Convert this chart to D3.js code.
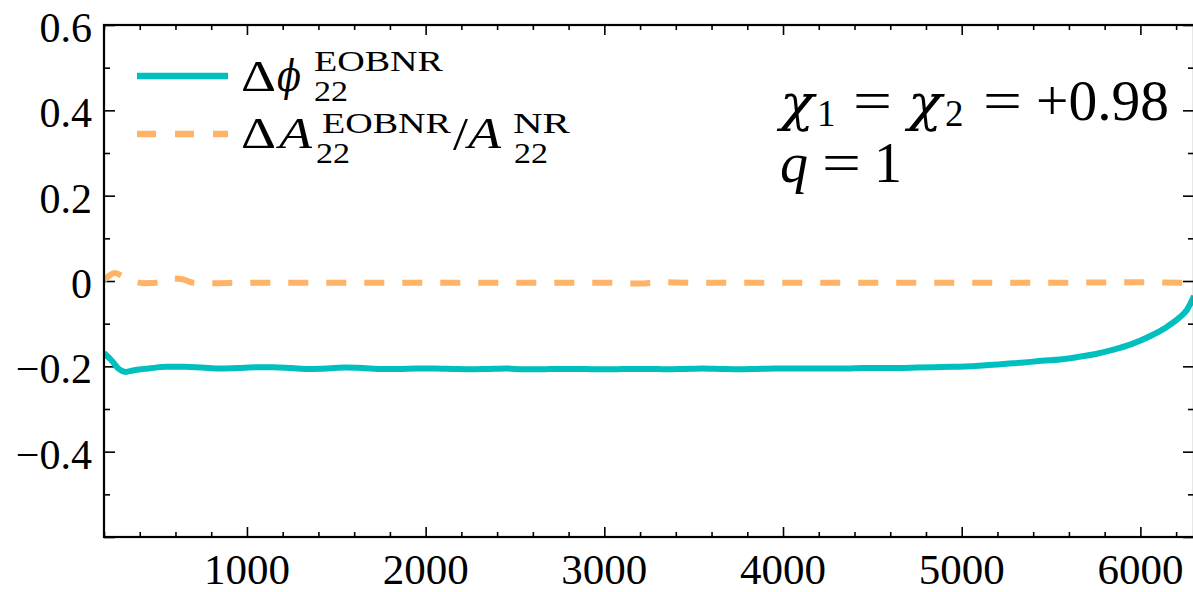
<!DOCTYPE html>
<html><head><meta charset="utf-8">
<script src="https://cdn.jsdelivr.net/npm/d3@7/dist/d3.min.js"></script>
<style>
html,body{margin:0;padding:0;background:#fff;}
svg text{font-family:"Liberation Serif","Times New Roman",serif;fill:#000;}
</style></head>
<body><svg id="chart" width="1193" height="592"></svg>
<script>
// ---- data ----
const phiX = [200,240,280,320,370,450,550,650,750,850,950,1050,1150,1250,1350,1450,1550,1650,1750,1850,1950,2050,2150,2250,2350,2450,2550,2650,2750,2850,2950,3050,3150,3250,3350,3450,3550,3650,3750,3850,3950,4050,4150,4250,4350,4450,4550,4650,4750,4850,4950,5050,5150,5250,5350,5450,5550,5650,5750,5850,5950,6050,6150,6220,6260,6300];
const phiY = [-0.169,-0.185,-0.205,-0.213,-0.209,-0.205,-0.201,-0.201,-0.203,-0.205,-0.204,-0.202,-0.202,-0.204,-0.206,-0.205,-0.203,-0.204,-0.206,-0.206,-0.205,-0.205,-0.206,-0.207,-0.206,-0.205,-0.207,-0.207,-0.206,-0.206,-0.207,-0.207,-0.206,-0.206,-0.207,-0.206,-0.205,-0.206,-0.207,-0.206,-0.205,-0.205,-0.205,-0.205,-0.205,-0.204,-0.204,-0.204,-0.203,-0.202,-0.201,-0.200,-0.197,-0.194,-0.191,-0.187,-0.184,-0.178,-0.171,-0.161,-0.148,-0.130,-0.107,-0.085,-0.068,-0.035];
const ampX = [200,230,260,300,360,420,500,580,640,700,800,1000,1500,2000,2500,3000,3200,3300,3500,4000,4500,5000,5500,6000,6300];
const ampY = [0.002,0.013,0.019,0.012,0.0,-0.005,-0.004,0.006,0.004,-0.004,-0.005,-0.004,-0.004,-0.004,-0.004,-0.004,-0.006,-0.003,-0.004,-0.004,-0.004,-0.004,-0.004,-0.003,-0.005];
const xMajor = [1000,2000,3000,4000,5000,6000];
const xMajorLabels = ["1000","2000","3000","4000","5000","6000"];
const yMajor = [-0.6,-0.4,-0.2,0,0.2,0.4,0.6];
const yMajorLabels = ["","\u22120.4","\u22120.2","0","0.2","0.4","0.6"];
const xDomain = [200,6300];
const yDomain = [-0.6,0.6];
const phiColor = "#00bfbf";
const ampColor = "#ffb366";

// ---- layout ----
const svg = d3.select("#chart");
const L = 104, R = 1194, T = 25, B = 537;
const x = d3.scaleLinear().domain(xDomain).range([L, R]);
const y = d3.scaleLinear().domain(yDomain).range([B, T]);
const xMinor = d3.range(200, 6301, 200).filter(v => v % 1000 !== 0);
const yMinor = d3.range(-5, 6, 2).map(v => v / 10);

svg.append("clipPath").attr("id","clip").append("rect")
  .attr("x", L).attr("y", T).attr("width", R - L).attr("height", B - T);

// ticks
function tickAxis(axis, tx, ty, vals, size) {
  const g = svg.append("g").attr("transform", `translate(${tx},${ty})`)
    .call(axis.tickValues(vals).tickSize(size).tickFormat(""));
  g.select(".domain").remove();
  g.selectAll("line").attr("stroke", "#000").attr("stroke-width", 1.6);
  return g;
}
tickAxis(d3.axisBottom(x), 0, B, xMajor, -10);
tickAxis(d3.axisBottom(x), 0, B, xMinor, -5);
tickAxis(d3.axisTop(x), 0, T, xMajor, -10);
tickAxis(d3.axisTop(x), 0, T, xMinor, -5);
tickAxis(d3.axisLeft(y), L, 0, yMajor, -11);
tickAxis(d3.axisLeft(y), L, 0, yMinor, -6);
tickAxis(d3.axisRight(y), R, 0, yMajor, -11);
tickAxis(d3.axisRight(y), R, 0, yMinor, -6);

// tick labels
svg.append("g").selectAll("text").data(xMajor).join("text")
  .attr("x", d => x(d)).attr("y", B + 47).attr("text-anchor", "middle")
  .attr("font-size", 43).text((d, i) => xMajorLabels[i]);
svg.append("g").selectAll("text").data(yMajor).join("text")
  .attr("x", L - 12).attr("y", d => y(d) + 17).attr("text-anchor", "end")
  .attr("font-size", 42).text((d, i) => yMajorLabels[i]);

// lines
const plot = svg.append("g").attr("clip-path", "url(#clip)");
const line = d3.line().x(d => x(d[0])).y(d => y(d[1])).curve(d3.curveMonotoneX);
plot.append("path").datum(ampX.map((v, i) => [v, ampY[i]]))
  .attr("d", line).attr("fill", "none").attr("stroke", ampColor)
  .attr("stroke-width", 6).attr("stroke-dasharray", "20,18");
plot.append("path").datum(phiX.map((v, i) => [v, phiY[i]]))
  .attr("d", line).attr("fill", "none").attr("stroke", phiColor)
  .attr("stroke-width", 6);

// spines
svg.append("rect").attr("x", L).attr("y", T).attr("width", R - L).attr("height", B - T)
  .attr("fill", "none").attr("stroke", "#000").attr("stroke-width", 2.2);

// legend
svg.append("line").attr("x1", 137).attr("x2", 228).attr("y1", 76).attr("y2", 76)
  .attr("stroke", phiColor).attr("stroke-width", 6.5);
svg.append("line").attr("x1", 137).attr("x2", 228).attr("y1", 134).attr("y2", 134)
  .attr("stroke", ampColor).attr("stroke-width", 6.5).attr("stroke-dasharray", "19,19");

// one <text> per label, pieces as absolutely positioned tspans
function label(pieces) {
  const t = svg.append("text");
  pieces.forEach(p => {
    const s = t.append("tspan").attr("x", p[1]).attr("y", p[2]).attr("font-size", p[3]).text(p[0]);
    const o = p[4] || {};
    if (o.italic) s.attr("font-style", "italic");
    if (o.fam) s.attr("font-family", o.fam);
    if (o.w) s.attr("textLength", o.w).attr("lengthAdjust", "spacingAndGlyphs");
  });
  return t;
}
label([
  ["\u0394", 241, 91, 44, {w: 35}],
  ["\u03d5", 277, 91, 42, {italic: true, fam: "DejaVu Serif", w: 24}],
  ["EOBNR", 314, 71, 30, {w: 129}]
]);
label([["22", 314, 101, 29, {w: 34}]]);
label([
  ["\u0394", 241, 148, 44, {w: 35}],
  ["A", 279, 148, 44, {italic: true, w: 33}],
  ["EOBNR", 322, 133, 29, {w: 129}],
  ["/", 453, 150, 46, {w: 15}],
  ["A", 468, 148, 44, {italic: true, w: 33}],
  ["NR", 513, 133, 29, {w: 57}]
]);
label([["22", 316, 163, 30, {w: 34}]]);
label([["22", 514, 163, 30, {w: 34}]]);

// annotation
label([
  ["\u03c7", 780, 120, 50, {italic: true, fam: "DejaVu Serif", w: 34}],
  ["1", 817, 126, 37],
  ["=", 853, 120, 56, {w: 39}],
  ["\u03c7", 908, 120, 50, {italic: true, fam: "DejaVu Serif", w: 34}],
  ["2", 945, 126, 37],
  ["=", 983, 120, 56, {w: 39}],
  ["+0.98", 1036, 120, 56, {w: 133}]
]);
label([
  ["q", 780, 182, 56, {italic: true}],
  ["=", 822, 182, 56, {w: 39}],
  ["1", 874, 182, 56]
]);
</script></body></html>
